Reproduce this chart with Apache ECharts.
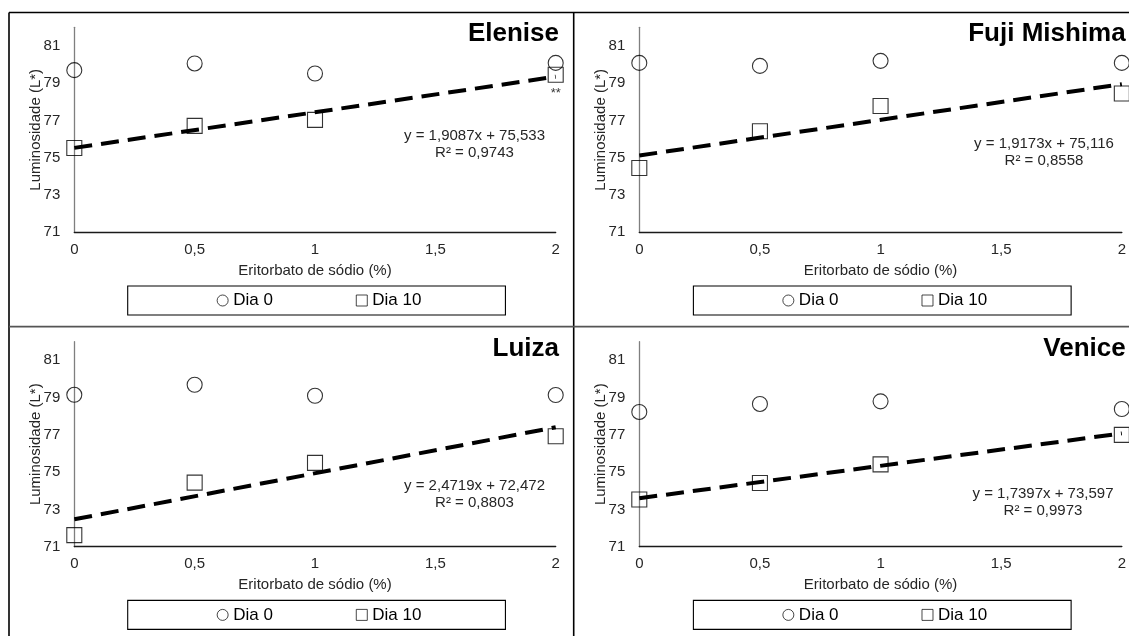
<!DOCTYPE html>
<html>
<head>
<meta charset="utf-8">
<script src="https://cdn.jsdelivr.net/npm/echarts@6/dist/echarts.min.js"></script>
<style>
html,body{margin:0;padding:0;background:#fff;}
#chart{width:1129px;height:636px;}
</style>
</head>
<body>
<div id="chart"></div>
<script>
// ---- data ----
const xValues = [0, 0.5, 1, 2];
const xTickLabels = ['0', '0,5', '1', '1,5', '2'];
const yTickLabels = ['71', '73', '75', '77', '79', '81'];
const seriesNames = ['Dia 0', 'Dia 10'];
const panelNames = ['Elenise', 'Fuji Mishima', 'Luiza', 'Venice'];

const dia0Elenise = [79.70, 80.06, 79.52, 80.09];
const dia10Elenise = [75.52, 76.71, 77.03, 79.45];
const dia0Fuji = [80.09, 79.93, 80.20, 80.09];
const dia10Fuji = [74.45, 76.42, 77.78, 78.45];
const dia0Luiza = [79.15, 79.69, 79.10, 79.14];
const dia10Luiza = [71.62, 74.44, 75.50, 76.93];
const dia0Venice = [78.23, 78.66, 78.80, 78.39];
const dia10Venice = [73.53, 74.42, 75.42, 77.00];

// trend line end values at x = 0 and x = 2
const trendX = [0, 2];
const trendElenise = [75.53, 79.35];
const trendFuji = [75.12, 78.95];
const trendLuiza = [72.47, 77.41];
const trendVenice = [73.60, 77.08];

const eqElenise = ['y = 1,9087x + 75,533', 'R² = 0,9743'];
const eqFuji = ['y = 1,9173x + 75,116', 'R² = 0,8558'];
const eqLuiza = ['y = 2,4719x + 72,472', 'R² = 0,8803'];
const eqVenice = ['y = 1,7397x + 73,597', 'R² = 0,9973'];

const notesElenise10 = ['', '', '', '**'];
const notesNone = ['', '', '', ''];

const xAxisTitle = 'Eritorbato de sódio (%)';
const yAxisTitle = 'Luminosidade (L*)';

// ---- layout ----
const FONT = 'Liberation Sans, Arial, sans-serif';
const gridLeft = [74.3, 639.3, 74.3, 639.3];
const gridTop = [27.3, 27.3, 341.7, 341.7];
const gridW = [481.4, 484.7, 481.4, 484.7];
const gridH = 205;
const titleRight = [570, 3.3, 570, 3.3];
const titleTop = [21, 21, 335.4, 335.4];
const eqX = [474.5, 1044, 474.5, 1043];
const eqY = [127.5, 135, 477.5, 485];
const legendLeft = [127.7, 693.4, 127.7, 693.4];
const legendTop = [286, 286, 600.4, 600.4];

const panels = [
  {d0: dia0Elenise, d10: dia10Elenise, trend: trendElenise, eq: eqElenise, notes: notesElenise10},
  {d0: dia0Fuji, d10: dia10Fuji, trend: trendFuji, eq: eqFuji, notes: notesNone},
  {d0: dia0Luiza, d10: dia10Luiza, trend: trendLuiza, eq: eqLuiza, notes: notesNone},
  {d0: dia0Venice, d10: dia10Venice, trend: trendVenice, eq: eqVenice, notes: notesNone}
];

const grids = [], xAxes = [], yAxes = [], series = [], titles = [], legends = [], graphics = [];

panels.forEach((p, i) => {
  grids.push({left: gridLeft[i], top: gridTop[i], width: gridW[i], height: gridH, containLabel: false});
  xAxes.push({
    type: 'value', gridIndex: i, min: 0, max: 2, interval: 0.5,
    name: xAxisTitle, nameLocation: 'middle', nameGap: 31, nameMoveOverlap: false,
    nameTextStyle: {fontFamily: FONT, fontSize: 15, color: '#262626'},
    axisLine: {show: true, onZero: false, lineStyle: {color: '#1a1a1a', width: 1.3}},
    axisTick: {show: false}, splitLine: {show: false},
    axisLabel: {fontFamily: FONT, fontSize: 15, color: '#262626', margin: 10,
      formatter: v => xTickLabels[Math.round(v / 0.5)] || ''}
  });
  yAxes.push({
    type: 'value', gridIndex: i, min: 71, max: 82, interval: 2,
    name: yAxisTitle, nameLocation: 'middle', nameGap: 31, nameMoveOverlap: false,
    nameTextStyle: {fontFamily: FONT, fontSize: 15, color: '#262626'},
    axisLine: {show: true, onZero: false, lineStyle: {color: '#7f7f7f', width: 1.3}},
    axisTick: {show: false}, splitLine: {show: false},
    axisLabel: {fontFamily: FONT, fontSize: 15, color: '#262626', margin: 14,
      formatter: v => yTickLabels.indexOf(String(v)) >= 0 ? String(v) : ''}
  });
  series.push({
    name: seriesNames[0], type: 'scatter', xAxisIndex: i, yAxisIndex: i,
    symbol: 'circle', symbolSize: 15, clip: false, z: 3,
    itemStyle: {color: 'rgba(255,255,255,0)', borderColor: '#000', borderWidth: 1.1},
    data: xValues.map((x, k) => [x, p.d0[k]])
  });
  series.push({
    name: seriesNames[1], type: 'scatter', xAxisIndex: i, yAxisIndex: i,
    symbol: 'rect', symbolSize: 15, clip: false, z: 4,
    itemStyle: {color: 'rgba(255,255,255,0)', borderColor: '#000', borderWidth: 1.1},
    label: {show: true, position: 'bottom', distance: 4, fontFamily: FONT, fontSize: 13, color: '#000',
      formatter: prm => p.notes[prm.dataIndex]},
    data: xValues.map((x, k) => [x, p.d10[k]])
  });
  series.push({
    name: 'trend', type: 'line', xAxisIndex: i, yAxisIndex: i,
    symbol: 'none', z: 5, silent: true,
    lineStyle: {color: '#000', width: 4, type: [18, 9]},
    data: trendX.map((x, k) => [x, p.trend[k]])
  });
  titles.push({
    text: panelNames[i], right: titleRight[i], top: titleTop[i], padding: 0,
    textStyle: {fontFamily: FONT, fontSize: 26, fontWeight: 'bold', color: '#000'}
  });
  legends.push({
    data: seriesNames, left: legendLeft[i], top: legendTop[i], orient: 'horizontal',
    padding: [6, 84, 6, 89], itemGap: 83, itemWidth: 11, itemHeight: 11,
    borderColor: '#000', borderWidth: 1.1, selectedMode: false,
    itemStyle: {borderWidth: 0.9},
    textStyle: {fontFamily: FONT, fontSize: 17, color: '#000'}
  });
  graphics.push({
    type: 'text', x: eqX[i], y: eqY[i], silent: true,
    style: {text: p.eq.join('\n'), textAlign: 'center', textVerticalAlign: 'top',
      font: '15px ' + FONT, lineHeight: 17, fill: '#262626'}
  });
});

// panel frame lines
graphics.push({type: 'line', shape: {x1: 9, y1: 12.5, x2: 1129, y2: 12.5}, style: {stroke: '#000', lineWidth: 1.6}});
graphics.push({type: 'line', shape: {x1: 9, y1: 12.5, x2: 9, y2: 636}, style: {stroke: '#000', lineWidth: 1.6}});
graphics.push({type: 'line', shape: {x1: 573.7, y1: 12.5, x2: 573.7, y2: 636}, style: {stroke: '#000', lineWidth: 1.6}});
graphics.push({type: 'line', shape: {x1: 9, y1: 326.7, x2: 1129, y2: 326.7}, style: {stroke: '#555', lineWidth: 1.8}});

const chart = echarts.init(document.getElementById('chart'), null, {renderer: 'canvas'});
chart.setOption({
  animation: false,
  backgroundColor: '#fff',
  title: titles,
  legend: legends,
  grid: grids,
  xAxis: xAxes,
  yAxis: yAxes,
  series: series,
  graphic: graphics
});
</script>
</body>
</html>
